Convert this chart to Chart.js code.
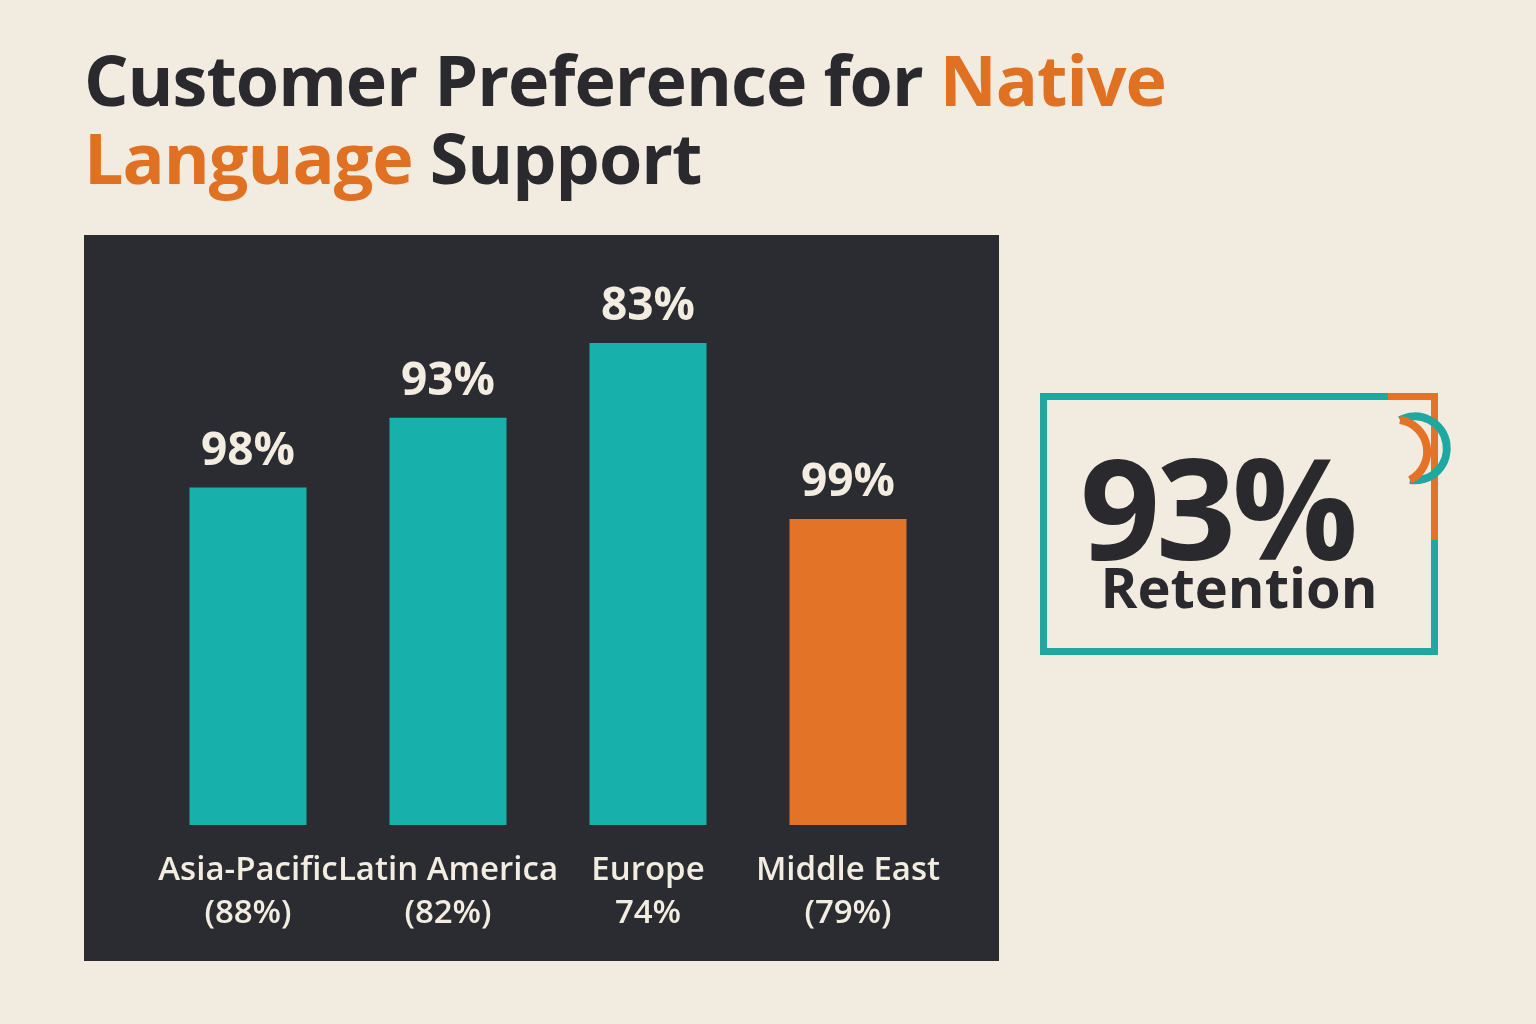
<!DOCTYPE html>
<html>
<head>
<meta charset="utf-8">
<script src="https://cdn.jsdelivr.net/npm/chart.js@4/dist/chart.umd.min.js"></script>
<style>
  body { margin: 0; width: 1536px; height: 1024px; background: #f2ece0; font-family: "Open Sans", sans-serif; position: relative; overflow: hidden; }
  h1 { position: absolute; left: 84px; top: 40px; margin: 0; font-size: 70px; line-height: 78px; font-weight: 700; color: #2a2a2e; letter-spacing: -1px; }
  h1 span { color: #e07022; }
  #panel { position: absolute; left: 84px; top: 235px; width: 915px; height: 726px; background: #2b2c31; }
  #box { position: absolute; left: 1040px; top: 393px; width: 384px; height: 248px; border: 7px solid #1fa8a0; }
  #big { position: absolute; left: 1080px; top: 410px; font-size: 140px; font-weight: 700; color: #2a2a2e; letter-spacing: -4px; }
  #ret { position: absolute; left: 1040px; width: 398px; top: 548px; text-align: center; font-size: 56px; font-weight: 700; color: #2a2a2e; }
</style>
</head>
<body>
<h1>Customer Preference for <span>Native</span><br><span>Language</span> Support</h1>
<div id="panel"><canvas id="chart" width="915" height="726"></canvas></div>
<div id="box"></div>
<svg style="position:absolute;left:0;top:0" width="1536" height="1024">
  <line x1="1388" y1="396.5" x2="1434.5" y2="396.5" stroke="#e37326" stroke-width="7"/>
  <line x1="1434.5" y1="393" x2="1434.5" y2="540" stroke="#e37326" stroke-width="7"/>
  <path d="M1410 480 A32 32 0 1 0 1400 420" fill="none" stroke="#1fa8a0" stroke-width="8"/>
  <path d="M1400 420 A32 32 0 0 1 1410 480" fill="none" stroke="#e37326" stroke-width="8"/>
</svg>
<div id="big">93%</div>
<div id="ret">Retention</div>
<script>
const regions = [["Asia-Pacific", "(88%)"], ["Latin America", "(82%)"], ["Europe", "74%"], ["Middle East", "(79%)"]];
const barValues = [70, 84.5, 100, 63.5];
const barLabels = ["98%", "93%", "83%", "99%"];
const barColours = ["#17b0aa", "#17b0aa", "#17b0aa", "#e37326"];

const topLabels = {
  id: "topLabels",
  afterDatasetsDraw(chart) {
    const ctx = chart.ctx;
    ctx.save();
    ctx.font = "700 46px 'Open Sans'";
    ctx.fillStyle = "#f2ede0";
    ctx.textAlign = "center";
    ctx.textBaseline = "middle";
    chart.getDatasetMeta(0).data.forEach((bar, i) => {
      ctx.fillText(barLabels[i], bar.x, bar.y - 36);
    });
    ctx.restore();
  }
};

new Chart(document.getElementById("chart"), {
  type: "bar",
  data: {
    labels: regions,
    datasets: [{ data: barValues, backgroundColor: barColours, barPercentage: 0.585, categoryPercentage: 1 }]
  },
  options: {
    responsive: false,
    animation: false,
    layout: { padding: { left: 64, right: 51, top: 108, bottom: 0 } },
    plugins: { legend: { display: false }, tooltip: { enabled: false } },
    scales: {
      y: { display: false, min: 0, max: 100 },
      x: {
        grid: { display: false },
        border: { display: false },
        afterFit: axis => { axis.height = 136; },
        ticks: { color: "#f2ede0", font: { family: "Open Sans", size: 33, weight: "600", lineHeight: 1.3 }, padding: 16, maxRotation: 0, autoSkip: false }
      }
    }
  },
  plugins: [topLabels]
});
</script>
</body>
</html>
